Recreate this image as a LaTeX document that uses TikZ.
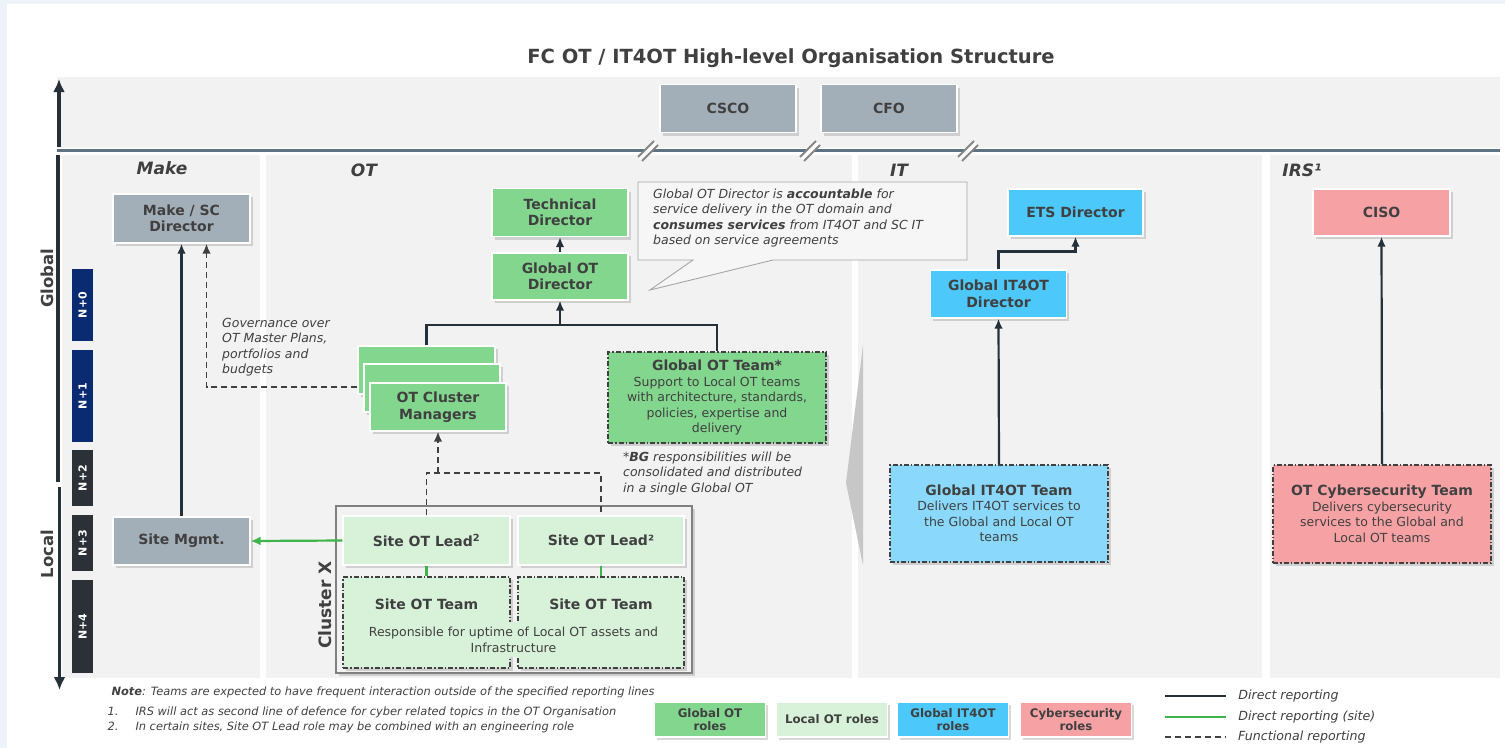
\documentclass[tikz,border=0pt]{standalone}
\usepackage{fontspec}
\setmainfont{DejaVu Sans}
\usetikzlibrary{arrows.meta,calc,shadows,positioning}

\definecolor{txtgray}{HTML}{404040}
\definecolor{colbg}{HTML}{F2F2F2}
\definecolor{pagebg}{HTML}{EEF2F9}
\definecolor{mgrgray}{HTML}{A3AFB8}
\definecolor{gotgreen}{HTML}{82D68E}
\definecolor{lotgreen}{HTML}{D8F2DA}
\definecolor{itblue}{HTML}{4CC8FA}
\definecolor{itteamblue}{HTML}{8AD9FC}
\definecolor{cypink}{HTML}{F6A2A5}
\definecolor{navylevel}{HTML}{0A2A72}
\definecolor{darklevel}{HTML}{2B3137}
\definecolor{axisdark}{HTML}{263038}
\definecolor{rulegray}{HTML}{5E7283}
\definecolor{sitegreen}{HTML}{3DB54A}

\newcommand{\rolefont}{\fontsize{14}{16.5}\selectfont\bfseries}
\newcommand{\descfont}{\fontsize{12.5}{15.5}\selectfont}
\newcommand{\notefont}{\fontsize{11.4}{15}\selectfont\itshape}
\newcommand{\legfont}{\fontsize{11.8}{13.5}\selectfont\bfseries}

\tikzset{
  role/.style={draw=white, line width=1.2pt, align=center, text=txtgray, font=\rolefont, inner sep=2pt,
    drop shadow={shadow xshift=2.5pt, shadow yshift=-3pt, opacity=0.3}},
  mgrbox/.style={role, fill=mgrgray},
  gotbox/.style={role, fill=gotgreen},
  lotbox/.style={role, fill=lotgreen},
  itbox/.style={role, fill=itblue},
  cybox/.style={role, fill=cypink},
  teambox/.style={role, draw=txtgray, line width=1.1pt, dash pattern=on 5pt off 2pt on 1.5pt off 2pt},
  report/.style={draw=axisdark, line width=2.2pt, -{Latex[length=10pt,width=8.5pt]}},
  reportline/.style={draw=axisdark, line width=2.2pt},
  sitereport/.style={draw=sitegreen, line width=2.2pt, -{Latex[length=10pt,width=9pt]}},
  functional/.style={draw=txtgray, line width=1.8pt, dash pattern=on 6pt off 4pt},
  axisline/.style={draw=axisdark, line width=3.5pt},
  level/.style={rotate=90, text=white, font=\fontsize{11}{13}\selectfont\bfseries, minimum height=21pt, inner sep=0pt},
  colhead/.style={text=txtgray, font=\fontsize{17}{20}\selectfont\bfseries\itshape},
  sidehead/.style={rotate=90, text=txtgray, font=\fontsize{16.5}{20}\selectfont\bfseries},
  breakmark/.style={draw=black!48, line width=1.8pt},
  legtext/.style={text=txtgray, font=\fontsize{12.6}{14}\selectfont\itshape},
}

\begin{document}
\begin{tikzpicture}[x=1pt,y=-1pt]
  \useasboundingbox (0,0) rectangle (1505,748);

  % Page.
  \fill[pagebg] (0,0) rectangle (1505,748);
  \fill[white] (7,4) rectangle (1505,748);
  \node[text=txtgray, font=\fontsize{19.5}{22}\selectfont\bfseries] (title) at (791,58) {FC OT / IT4OT High-level Organisation Structure};

  % Band and columns.
  \fill[colbg] (57,77) rectangle (1500,148);
  \fill[colbg] (62,155) rectangle (260,678);
  \fill[colbg] (266,155) rectangle (852,678);
  \fill[colbg] (858,155) rectangle (1262,678);
  \fill[colbg] (1270,155) rectangle (1500,678);
  \fill[black!22] (863,345) -- (846,483) -- (863,565) -- cycle;
  \draw[rulegray, line width=3pt] (57,150) -- (1500,150);

  % Breaks.
  \draw[white, line width=6pt] (640,159) -- (656,143);
  \draw[breakmark] (638,157) -- (654,141);
  \draw[breakmark] (642,161) -- (658,145);
  \draw[white, line width=6pt] (802,159) -- (818,143);
  \draw[breakmark] (800,157) -- (816,141);
  \draw[breakmark] (804,161) -- (820,145);
  \draw[white, line width=6pt] (960,159) -- (976,143);
  \draw[breakmark] (958,157) -- (974,141);
  \draw[breakmark] (962,161) -- (978,145);

  % Axis.
  \draw[axisline, -{Latex[length=13pt,width=12pt]}] (59,147) -- (59,79);
  \draw[axisline] (58,155) -- (58,482);
  \draw[axisline, -{Latex[length=13pt,width=12pt]}] (59.5,487) -- (59.5,690);
  \node[sidehead] (global) at (47,278) {Global};
  \node[sidehead] (local) at (47,554) {Local};

  % Levels.
  \node[level, fill=navylevel, minimum width=72pt] (n0) at (82.5,305) {N+0};
  \node[level, fill=navylevel, minimum width=92pt] (n1) at (82.5,396) {N+1};
  \node[level, fill=darklevel, minimum width=56pt] (n2) at (82.5,478) {N+2};
  \node[level, fill=darklevel, minimum width=56pt] (n3) at (82.5,543) {N+3};
  \node[level, fill=darklevel, minimum width=93pt] (n4) at (82.5,626.5) {N+4};

  % Column headings.
  \node[colhead] (hmake) at (162,168) {Make};
  \node[colhead] (hot) at (364,170) {OT};
  \node[colhead] (hit) at (899,170) {IT};
  \node[colhead] (hirs) at (1302,170) {IRS¹};

  % Executives.
  \node[mgrbox, minimum width=136pt, minimum height=48pt] (csco) at (728,108.5) {CSCO};
  \node[mgrbox, minimum width=136pt, minimum height=48pt] (cfo) at (889,108.5) {CFO};

  % Make.
  \node[mgrbox, minimum width=137pt, minimum height=49pt] (makedir) at (181.5,218.5) {Make / SC\\Director};
  \node[mgrbox, minimum width=137pt, minimum height=48pt] (sitemgmt) at (181.5,541) {Site Mgmt.};
  \draw[report] (sitemgmt.north) -- (makedir.south);
  \node[anchor=north west, align=left, inner sep=0pt, text=txtgray, font=\descfont\itshape] (governance) at (222,318) {Governance over\\OT Master Plans,\\portfolios and\\budgets};

  % OT.
  \node[gotbox, minimum width=136pt, minimum height=48pt] (techdir) at (560,212.5) {Technical\\Director};
  \node[gotbox, minimum width=136pt, minimum height=47pt] (gotdir) at (560,276.5) {Global OT\\Director};
  \draw[report] (gotdir.north) -- (techdir.south);

  \fill[colbg!70!white, draw=black!35, line width=0.9pt] (638,182) -- (967,182) -- (967,260) -- (773,260) -- (650,290) -- (693,260) -- (638,260) -- cycle;
  \node[anchor=north west, align=left, inner sep=0pt, text=txtgray, font=\descfont\itshape] (callout) at (653,188.5) {Global OT Director is \textbf{accountable} for\\service delivery in the OT domain and\\\textbf{consumes services} from IT4OT and SC IT\\based on service agreements};

  \node[gotbox, minimum width=137pt, minimum height=48pt] (clback) at (426.5,370) {};
  \node[gotbox, minimum width=136pt, minimum height=48pt] (clmid) at (432,388) {};
  \node[gotbox, minimum width=136pt, minimum height=48pt] (clfront) at (438,407) {OT Cluster\\Managers};

  \node[teambox, fill=gotgreen, minimum width=218pt, minimum height=91pt, font=\descfont] (gotteam) at (717,397.5) {{\rolefont Global OT Team*}\\Support to Local OT teams\\with architecture, standards,\\policies, expertise and\\delivery};
  \node[anchor=north west, align=left, inner sep=0pt, text=txtgray, font=\descfont\itshape] (bgnote) at (623,451.5) {*\textbf{BG} responsibilities will be\\consolidated and distributed\\in a single Global OT};

  \coordinate (otjoin) at (560,325);
  \draw[reportline] (clback.north) |- (otjoin) -| (gotteam.north);
  \draw[report] (otjoin) -- (gotdir.south);
  \draw[functional, -{Latex[length=10pt,width=8.5pt]}] ($(clback.west)+(0,17)$) -| ($(makedir.south)+(25,0)$);

  % Cluster X.
  \node[draw=black!50, line width=2pt, fill=colbg, minimum width=356pt, minimum height=167pt, inner sep=0pt,
    drop shadow={shadow xshift=2.5pt, shadow yshift=-3pt, opacity=0.3}] (clusterx) at (514,589.5) {};
  \node[sidehead, font=\fontsize{17}{20}\selectfont\bfseries] (clusterlbl) at (325,605) {Cluster X};
  \node[lotbox, minimum width=167pt, minimum height=49pt] (leadA) at (426.5,540.5) {Site OT Lead\textsuperscript{2}};
  \node[lotbox, minimum width=166pt, minimum height=49pt] (leadB) at (601,540.5) {Site OT Lead²};
  \node[teambox, fill=lotgreen, minimum width=167pt, minimum height=91pt] (teamA) at (426.5,622.5) {};
  \node[teambox, fill=lotgreen, minimum width=166pt, minimum height=91pt] (teamB) at (601,622.5) {};
  \fill[lotgreen] (505,622) rectangle (522,657);
  \node[text=txtgray, font=\rolefont] (teamAlbl) at ($(teamA.north)+(0,28)$) {Site OT Team};
  \node[text=txtgray, font=\rolefont] (teamBlbl) at ($(teamB.north)+(0,28)$) {Site OT Team};
  \node[align=center, text=txtgray, font=\descfont] (uptime) at (513.5,640) {Responsible for uptime of Local OT assets and\\Infrastructure};
  \draw[sitegreen, line width=2.2pt] (leadA.south) -- (teamA.north);
  \draw[sitegreen, line width=2.2pt] (leadB.south) -- (teamB.north);

  \coordinate (leadjoin) at (438,473);
  \draw[functional] (leadA.north) |- (leadjoin) -| (leadB.north);
  \draw[functional, -{Latex[length=10pt,width=8.5pt]}] (leadjoin) -- (clfront.south);
  \draw[sitereport] (leadA.west) -- (sitemgmt.east);

  % IT.
  \node[itbox, minimum width=135pt, minimum height=47pt] (etsdir) at (1075.5,212.5) {ETS Director};
  \node[itbox, minimum width=136pt, minimum height=48pt] (itdir) at (998.5,294) {Global IT4OT\\Director};
  \node[teambox, fill=itteamblue, minimum width=218pt, minimum height=97pt, font=\descfont] (itteam) at (999,513.5) {{\rolefont Global IT4OT Team}\\Delivers IT4OT services to\\the Global and Local OT\\teams};
  \draw[report] (itdir.north) -- ++(0,-18) -| (etsdir.south);
  \draw[report] (itteam.north) -- (itdir.south);

  % IRS.
  \node[cybox, minimum width=137pt, minimum height=47pt] (ciso) at (1381.5,212.5) {CISO};
  \node[teambox, fill=cypink, minimum width=218pt, minimum height=98pt, font=\descfont] (cyteam) at (1382,514) {{\rolefont OT Cybersecurity Team}\\Delivers cybersecurity\\services to the Global and\\Local OT teams};
  \draw[report] (cyteam.north) -- (ciso.south);

  % Notes.
  \node[anchor=west, text=txtgray, font=\notefont] (note) at (108,692) {\textbf{Note}: Teams are expected to have frequent interaction outside of the specified reporting lines};
  \node[anchor=west, text=txtgray, font=\notefont] (fnone) at (104,712) {\makebox[28pt][l]{1.}IRS will act as second line of defence for cyber related topics in the OT Organisation};
  \node[anchor=west, text=txtgray, font=\notefont] (fntwo) at (104,727) {\makebox[28pt][l]{2.}In certain sites, Site OT Lead role may be combined with an engineering role};

  % Legend.
  \node[gotbox, minimum width=111pt, minimum height=35pt, font=\legfont, inner sep=1pt] (leggot) at (710,719.5) {Global OT\\roles};
  \node[lotbox, minimum width=111pt, minimum height=35pt, font=\legfont, inner sep=1pt] (leglot) at (832,719.5) {Local OT roles};
  \node[itbox, minimum width=111pt, minimum height=35pt, font=\legfont, inner sep=1pt] (legit) at (953,719.5) {Global IT4OT\\roles};
  \node[cybox, minimum width=111pt, minimum height=35pt, font=\legfont, inner sep=1pt] (legcy) at (1076,719.5) {Cybersecurity\\roles};

  \coordinate (lgdirect) at (1165,696);
  \coordinate (lgsite) at (1165,717);
  \coordinate (lgfunc) at (1165,737);
  \draw[reportline] (lgdirect) -- ++(61,0) node[right=8pt, legtext] (lgdirecttxt) {Direct reporting};
  \draw[sitegreen, line width=2.2pt] (lgsite) -- ++(61,0) node[right=8pt, legtext] (lgsitetxt) {Direct reporting (site)};
  \draw[functional] (lgfunc) -- ++(61,0) node[right=8pt, legtext] (lgfunctxt) {Functional reporting};
\end{tikzpicture}
\end{document}
